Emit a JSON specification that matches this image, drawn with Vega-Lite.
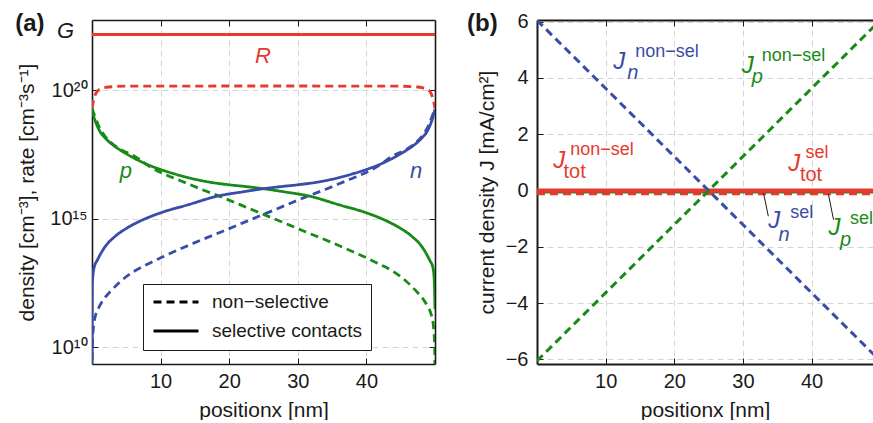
{
  "$schema": "https://vega.github.io/schema/vega-lite/v6.json",
  "padding": {"left": 15, "top": 11, "right": 0, "bottom": 0},
  "background": "white",
  "config": {
    "view": {"stroke": null},
    "font": "Liberation Sans",
    "text": {"font": "Liberation Sans"},
    "axis": {
      "labelFont": "Liberation Sans", "titleFont": "Liberation Sans",
      "labelFontSize": 20, "titleFontSize": 21, "titleFontWeight": "normal",
      "labelColor": "#1a1a1a", "titleColor": "#1a1a1a",
      "domain": true, "domainColor": "#1a1a1a", "domainWidth": 1.6,
      "tickColor": "#1a1a1a", "tickSize": -6, "tickWidth": 1,
      "gridColor": "#d4d4d4", "gridDash": [6, 4], "gridWidth": 1
    }
  },
  "datasets": {
    "dens": [
      {"x":0,"y":1e9,"carrier":"n","contact":"non−selective"},
      {"x":0.05,"y":1e10,"carrier":"n","contact":"non−selective"},
      {"x":0.2,"y":5.6e10,"carrier":"n","contact":"non−selective"},
      {"x":0.55,"y":1.86e11,"carrier":"n","contact":"non−selective"},
      {"x":1,"y":3.5e11,"carrier":"n","contact":"non−selective"},
      {"x":1.8,"y":7.9e11,"carrier":"n","contact":"non−selective"},
      {"x":2.8,"y":1.58e12,"carrier":"n","contact":"non−selective"},
      {"x":4.2,"y":3.7e12,"carrier":"n","contact":"non−selective"},
      {"x":6,"y":8.5e12,"carrier":"n","contact":"non−selective"},
      {"x":8,"y":1.66e13,"carrier":"n","contact":"non−selective"},
      {"x":10,"y":3.0e13,"carrier":"n","contact":"non−selective"},
      {"x":13,"y":6.9e13,"carrier":"n","contact":"non−selective"},
      {"x":16,"y":1.51e14,"carrier":"n","contact":"non−selective"},
      {"x":19,"y":3.2e14,"carrier":"n","contact":"non−selective"},
      {"x":22,"y":6.9e14,"carrier":"n","contact":"non−selective"},
      {"x":25,"y":1.48e15,"carrier":"n","contact":"non−selective"},
      {"x":28,"y":3.16e15,"carrier":"n","contact":"non−selective"},
      {"x":31,"y":6.8e15,"carrier":"n","contact":"non−selective"},
      {"x":34,"y":1.38e16,"carrier":"n","contact":"non−selective"},
      {"x":37,"y":2.95e16,"carrier":"n","contact":"non−selective"},
      {"x":39.4,"y":5.4e16,"carrier":"n","contact":"non−selective"},
      {"x":41.7,"y":1.12e17,"carrier":"n","contact":"non−selective"},
      {"x":43.8,"y":2.75e17,"carrier":"n","contact":"non−selective"},
      {"x":45.7,"y":4.8e17,"carrier":"n","contact":"non−selective"},
      {"x":47.2,"y":9.1e17,"carrier":"n","contact":"non−selective"},
      {"x":48.2,"y":1.78e18,"carrier":"n","contact":"non−selective"},
      {"x":49,"y":4.0e18,"carrier":"n","contact":"non−selective"},
      {"x":49.6,"y":1.0e19,"carrier":"n","contact":"non−selective"},
      {"x":50,"y":2.0e19,"carrier":"n","contact":"non−selective"},

      {"x":0,"y":2.0e19,"carrier":"p","contact":"non−selective"},
      {"x":0.4,"y":1.0e19,"carrier":"p","contact":"non−selective"},
      {"x":1,"y":4.0e18,"carrier":"p","contact":"non−selective"},
      {"x":1.8,"y":1.78e18,"carrier":"p","contact":"non−selective"},
      {"x":2.8,"y":9.1e17,"carrier":"p","contact":"non−selective"},
      {"x":4.3,"y":4.8e17,"carrier":"p","contact":"non−selective"},
      {"x":6.2,"y":2.75e17,"carrier":"p","contact":"non−selective"},
      {"x":8.3,"y":1.12e17,"carrier":"p","contact":"non−selective"},
      {"x":10.6,"y":5.4e16,"carrier":"p","contact":"non−selective"},
      {"x":13,"y":2.95e16,"carrier":"p","contact":"non−selective"},
      {"x":16,"y":1.38e16,"carrier":"p","contact":"non−selective"},
      {"x":19,"y":6.8e15,"carrier":"p","contact":"non−selective"},
      {"x":22,"y":3.16e15,"carrier":"p","contact":"non−selective"},
      {"x":25,"y":1.48e15,"carrier":"p","contact":"non−selective"},
      {"x":28,"y":6.9e14,"carrier":"p","contact":"non−selective"},
      {"x":31,"y":3.2e14,"carrier":"p","contact":"non−selective"},
      {"x":34,"y":1.51e14,"carrier":"p","contact":"non−selective"},
      {"x":37,"y":6.9e13,"carrier":"p","contact":"non−selective"},
      {"x":40,"y":3.0e13,"carrier":"p","contact":"non−selective"},
      {"x":42,"y":1.66e13,"carrier":"p","contact":"non−selective"},
      {"x":44,"y":8.5e12,"carrier":"p","contact":"non−selective"},
      {"x":45.8,"y":3.7e12,"carrier":"p","contact":"non−selective"},
      {"x":47.2,"y":1.58e12,"carrier":"p","contact":"non−selective"},
      {"x":48.2,"y":7.9e11,"carrier":"p","contact":"non−selective"},
      {"x":49,"y":3.5e11,"carrier":"p","contact":"non−selective"},
      {"x":49.45,"y":1.86e11,"carrier":"p","contact":"non−selective"},
      {"x":49.8,"y":5.6e10,"carrier":"p","contact":"non−selective"},
      {"x":49.95,"y":1e10,"carrier":"p","contact":"non−selective"},
      {"x":50,"y":1e9,"carrier":"p","contact":"non−selective"},

      {"x":0,"y":2.0e19,"carrier":"R","contact":"non−selective"},
      {"x":0.25,"y":4.2e19,"carrier":"R","contact":"non−selective"},
      {"x":0.6,"y":7.9e19,"carrier":"R","contact":"non−selective"},
      {"x":1.2,"y":1.12e20,"carrier":"R","contact":"non−selective"},
      {"x":2.5,"y":1.35e20,"carrier":"R","contact":"non−selective"},
      {"x":5,"y":1.45e20,"carrier":"R","contact":"non−selective"},
      {"x":25,"y":1.48e20,"carrier":"R","contact":"non−selective"},
      {"x":45,"y":1.45e20,"carrier":"R","contact":"non−selective"},
      {"x":47.5,"y":1.35e20,"carrier":"R","contact":"non−selective"},
      {"x":48.8,"y":1.12e20,"carrier":"R","contact":"non−selective"},
      {"x":49.4,"y":7.9e19,"carrier":"R","contact":"non−selective"},
      {"x":49.75,"y":4.2e19,"carrier":"R","contact":"non−selective"},
      {"x":50,"y":2.0e19,"carrier":"R","contact":"non−selective"},

      {"x":0,"y":1.5e22,"carrier":"R","contact":"selective contacts"},
      {"x":50,"y":1.5e22,"carrier":"R","contact":"selective contacts"},

      {"x":0,"y":1.82e19,"carrier":"p","contact":"selective contacts"},
      {"x":0.3,"y":8.9e18,"carrier":"p","contact":"selective contacts"},
      {"x":0.7,"y":4.5e18,"carrier":"p","contact":"selective contacts"},
      {"x":1.2,"y":2.4e18,"carrier":"p","contact":"selective contacts"},
      {"x":2,"y":1.32e18,"carrier":"p","contact":"selective contacts"},
      {"x":3,"y":7.6e17,"carrier":"p","contact":"selective contacts"},
      {"x":4.3,"y":4.4e17,"carrier":"p","contact":"selective contacts"},
      {"x":6,"y":2.4e17,"carrier":"p","contact":"selective contacts"},
      {"x":8,"y":1.32e17,"carrier":"p","contact":"selective contacts"},
      {"x":10,"y":8.3e16,"carrier":"p","contact":"selective contacts"},
      {"x":12,"y":5.6e16,"carrier":"p","contact":"selective contacts"},
      {"x":14,"y":4.0e16,"carrier":"p","contact":"selective contacts"},
      {"x":17,"y":2.7e16,"carrier":"p","contact":"selective contacts"},
      {"x":20,"y":2.1e16,"carrier":"p","contact":"selective contacts"},
      {"x":22.5,"y":1.78e16,"carrier":"p","contact":"selective contacts"},
      {"x":25,"y":1.48e16,"carrier":"p","contact":"selective contacts"},
      {"x":28,"y":1.12e16,"carrier":"p","contact":"selective contacts"},
      {"x":31.7,"y":7.6e15,"carrier":"p","contact":"selective contacts"},
      {"x":36,"y":3.5e15,"carrier":"p","contact":"selective contacts"},
      {"x":40,"y":1.7e15,"carrier":"p","contact":"selective contacts"},
      {"x":42.5,"y":9.3e14,"carrier":"p","contact":"selective contacts"},
      {"x":44.8,"y":4.5e14,"carrier":"p","contact":"selective contacts"},
      {"x":46.5,"y":2.2e14,"carrier":"p","contact":"selective contacts"},
      {"x":48.2,"y":7.4e13,"carrier":"p","contact":"selective contacts"},
      {"x":49.2,"y":2.5e13,"carrier":"p","contact":"selective contacts"},
      {"x":49.7,"y":1.23e13,"carrier":"p","contact":"selective contacts"},
      {"x":49.9,"y":3.7e12,"carrier":"p","contact":"selective contacts"},
      {"x":50,"y":3e11,"carrier":"p","contact":"selective contacts"},

      {"x":0,"y":1e9,"carrier":"n","contact":"selective contacts"},
      {"x":0.05,"y":3.0e12,"carrier":"n","contact":"selective contacts"},
      {"x":0.3,"y":1.23e13,"carrier":"n","contact":"selective contacts"},
      {"x":0.8,"y":2.5e13,"carrier":"n","contact":"selective contacts"},
      {"x":1.8,"y":7.4e13,"carrier":"n","contact":"selective contacts"},
      {"x":3.5,"y":2.2e14,"carrier":"n","contact":"selective contacts"},
      {"x":5.2,"y":4.5e14,"carrier":"n","contact":"selective contacts"},
      {"x":7.5,"y":9.3e14,"carrier":"n","contact":"selective contacts"},
      {"x":10,"y":1.7e15,"carrier":"n","contact":"selective contacts"},
      {"x":14,"y":3.5e15,"carrier":"n","contact":"selective contacts"},
      {"x":18.3,"y":7.6e15,"carrier":"n","contact":"selective contacts"},
      {"x":22,"y":1.12e16,"carrier":"n","contact":"selective contacts"},
      {"x":25,"y":1.48e16,"carrier":"n","contact":"selective contacts"},
      {"x":27.5,"y":1.78e16,"carrier":"n","contact":"selective contacts"},
      {"x":30,"y":2.1e16,"carrier":"n","contact":"selective contacts"},
      {"x":33,"y":2.7e16,"carrier":"n","contact":"selective contacts"},
      {"x":36,"y":4.0e16,"carrier":"n","contact":"selective contacts"},
      {"x":38,"y":5.6e16,"carrier":"n","contact":"selective contacts"},
      {"x":40,"y":8.3e16,"carrier":"n","contact":"selective contacts"},
      {"x":42,"y":1.32e17,"carrier":"n","contact":"selective contacts"},
      {"x":44,"y":2.4e17,"carrier":"n","contact":"selective contacts"},
      {"x":45.7,"y":4.4e17,"carrier":"n","contact":"selective contacts"},
      {"x":47,"y":7.6e17,"carrier":"n","contact":"selective contacts"},
      {"x":48,"y":1.32e18,"carrier":"n","contact":"selective contacts"},
      {"x":48.8,"y":2.4e18,"carrier":"n","contact":"selective contacts"},
      {"x":49.3,"y":4.5e18,"carrier":"n","contact":"selective contacts"},
      {"x":49.7,"y":8.9e18,"carrier":"n","contact":"selective contacts"},
      {"x":50,"y":1.82e19,"carrier":"n","contact":"selective contacts"}
    ],
    "jsel": [
      {"x":0,"J":-0.07,"carrier":"n"},
      {"x":50,"J":-0.07,"carrier":"n"},
      {"x":0,"J":-0.07,"carrier":"p"},
      {"x":50,"J":-0.07,"carrier":"p"}
    ],
    "jtotnon": [
      {"x":0,"J":-0.11,"carrier":"tot"},
      {"x":50,"J":-0.11,"carrier":"tot"}
    ],
    "jtotsel": [
      {"x":0,"J":0.0,"carrier":"tot"},
      {"x":50,"J":0.0,"carrier":"tot"}
    ],
    "jnon": [
      {"x":0,"J":6.05,"carrier":"n"},
      {"x":50,"J":-6.05,"carrier":"n"},
      {"x":0,"J":-6.05,"carrier":"p"},
      {"x":50,"J":6.05,"carrier":"p"}
    ]
  },
  "columns": 2,
  "spacing": 31,
  "concat": [
    {
      "width": 343,
      "height": 344,
      "layer": [
        {
          "data": {"name": "dens"},
          "mark": {"type": "line", "strokeWidth": 2.8, "clip": true, "interpolate": "monotone"},
          "encoding": {
            "x": {"field": "x", "type": "quantitative",
              "scale": {"domain": [0, 50], "nice": false, "zero": false},
              "axis": {"values": [10, 20, 30, 40], "title": "positionx [nm]", "grid": true, "labelPadding": 13, "titlePadding": 8}},
            "y": {"field": "y", "type": "quantitative",
              "scale": {"type": "log", "domain": [2.2e9, 5.5e22], "nice": false},
              "axis": {"values": [1e10, 1e15, 1e20], "labelExpr": "datum.value < 1e12 ? '10¹⁰' : datum.value < 1e17 ? '10¹⁵' : '10²⁰'",
                "title": "density [cm⁻³], rate [cm⁻³s⁻¹]", "grid": true, "labelPadding": 11, "titlePadding": 12}},
            "color": {"field": "carrier", "type": "nominal",
              "scale": {"domain": ["n", "p", "R", "G", "tot"], "range": ["#3a4ca8", "#178a17", "#e63a2e", "#1a1a1a", "#e63a2e"]},
              "legend": null},
            "strokeDash": {"field": "contact", "type": "nominal",
              "scale": {"domain": ["non−selective", "selective contacts"], "range": [[8, 5], [1, 0]]},
              "legend": {"orient": "none", "legendX": 51, "legendY": 264, "title": null,
                "symbolType": "stroke", "symbolSize": 2025, "symbolStrokeWidth": 3, "symbolStrokeColor": "#000000",
                "labelFont": "Liberation Sans", "labelFontSize": 19, "labelColor": "#1a1a1a", "labelOffset": 12,
                "padding": 9, "rowPadding": 10, "clipHeight": 18,
                "strokeColor": "#1a1a1a", "fillColor": "white", "cornerRadius": 0}}
          }
        },
        {
          "data": {"name": "dens"},
          "mark": {"type": "point", "opacity": 0, "clip": true},
          "encoding": {
            "x": {"field": "x", "type": "quantitative",
              "scale": {"domain": [0, 50], "nice": false, "zero": false},
              "axis": {"orient": "top", "values": [10, 20, 30, 40], "labels": false, "title": null, "grid": false}},
            "y": {"field": "y", "type": "quantitative",
              "scale": {"type": "log", "domain": [2.2e9, 5.5e22], "nice": false},
              "axis": {"orient": "right", "values": [1e10, 1e15, 1e20], "labels": false, "title": null, "grid": false}}
          }
        },
        {
          "data": {"values": [
            {"x": -5.1, "y": 1.1e22, "text": "G", "carrier": "G"},
            {"x": 23.76, "y": 1.15e21, "text": "R", "carrier": "R"},
            {"x": 4.04, "y": 3.7e16, "text": "p", "carrier": "p"},
            {"x": 46.36, "y": 3.7e16, "text": "n", "carrier": "n"}
          ]},
          "mark": {"type": "text", "fontStyle": "italic", "fontSize": 22, "align": "left", "baseline": "alphabetic"},
          "encoding": {
            "x": {"field": "x", "type": "quantitative", "scale": {"domain": [0, 50], "nice": false, "zero": false}, "axis": null},
            "y": {"field": "y", "type": "quantitative", "scale": {"type": "log", "domain": [2.2e9, 5.5e22], "nice": false}, "axis": null},
            "text": {"field": "text"},
            "color": {"field": "carrier", "type": "nominal",
              "scale": {"domain": ["n", "p", "R", "G", "tot"], "range": ["#3a4ca8", "#178a17", "#e63a2e", "#1a1a1a", "#e63a2e"]},
              "legend": null}
          }
        },
        {
          "data": {"values": [{"x": -11.2, "y": 2.04e22, "text": "(a)"}]},
          "mark": {"type": "text", "fontWeight": "bold", "fontSize": 24, "align": "left", "baseline": "alphabetic", "color": "#1a1a1a"},
          "encoding": {
            "x": {"field": "x", "type": "quantitative", "scale": {"domain": [0, 50], "nice": false, "zero": false}, "axis": null},
            "y": {"field": "y", "type": "quantitative", "scale": {"type": "log", "domain": [2.2e9, 5.5e22], "nice": false}, "axis": null},
            "text": {"field": "text"}
          }
        }
      ],
      "resolve": {"axis": {"x": "independent", "y": "independent"}}
    },
    {
      "width": 336,
      "height": 344,
      "layer": [
        {
          "data": {"name": "jsel"},
          "mark": {"type": "line", "strokeWidth": 1.2, "clip": true},
          "encoding": {
            "x": {"field": "x", "type": "quantitative",
              "scale": {"domain": [0, 48.95], "nice": false, "zero": false},
              "axis": {"values": [10, 20, 30, 40], "title": "positionx [nm]", "grid": true, "labelPadding": 13, "titlePadding": 8,
                "domainColor": "#1a1a1a", "domainWidth": 2}},
            "y": {"field": "J", "type": "quantitative",
              "scale": {"domain": [-6.16, 6.06], "nice": false, "zero": false},
              "axis": {"values": [-6, -4, -2, 0, 2, 4, 6], "title": "current density J [mA/cm²]", "grid": true, "labelPadding": 15, "titlePadding": 8,
                "domainColor": "#1a1a1a", "domainWidth": 2}},
            "color": {"field": "carrier", "type": "nominal",
              "scale": {"domain": ["n", "p", "R", "G", "tot"], "range": ["#3a4ca8", "#178a17", "#e63a2e", "#1a1a1a", "#e63a2e"]},
              "legend": null}
          }
        },
        {
          "data": {"name": "jnon"},
          "mark": {"type": "point", "opacity": 0, "clip": true},
          "encoding": {
            "x": {"field": "x", "type": "quantitative",
              "scale": {"domain": [0, 48.95], "nice": false, "zero": false},
              "axis": {"orient": "top", "values": [10, 20, 30, 40], "labels": false, "title": null, "grid": false,
                "domainColor": "#1a1a1a", "domainWidth": 2}},
            "y": {"field": "J", "type": "quantitative",
              "scale": {"domain": [-6.16, 6.06], "nice": false, "zero": false},
              "axis": null}
          }
        },
        {
          "data": {"name": "jtotnon"},
          "mark": {"type": "line", "strokeWidth": 3, "strokeDash": [8, 5], "clip": true, "color": "#e63a2e"},
          "encoding": {
            "x": {"field": "x", "type": "quantitative", "scale": {"domain": [0, 48.95], "nice": false, "zero": false}, "axis": null},
            "y": {"field": "J", "type": "quantitative", "scale": {"domain": [-6.16, 6.06], "nice": false, "zero": false}, "axis": null}
          }
        },
        {
          "data": {"name": "jtotsel"},
          "mark": {"type": "line", "strokeWidth": 4, "clip": true, "color": "#e63a2e"},
          "encoding": {
            "x": {"field": "x", "type": "quantitative", "scale": {"domain": [0, 48.95], "nice": false, "zero": false}, "axis": null},
            "y": {"field": "J", "type": "quantitative", "scale": {"domain": [-6.16, 6.06], "nice": false, "zero": false}, "axis": null}
          }
        },
        {
          "data": {"name": "jnon"},
          "mark": {"type": "line", "strokeWidth": 3, "strokeDash": [8, 5], "clip": true},
          "encoding": {
            "x": {"field": "x", "type": "quantitative", "scale": {"domain": [0, 48.95], "nice": false, "zero": false}, "axis": null},
            "y": {"field": "J", "type": "quantitative", "scale": {"domain": [-6.16, 6.06], "nice": false, "zero": false}, "axis": null},
            "color": {"field": "carrier", "type": "nominal",
              "scale": {"domain": ["n", "p", "R", "G", "tot"], "range": ["#3a4ca8", "#178a17", "#e63a2e", "#1a1a1a", "#e63a2e"]},
              "legend": null}
          }
        },
        {
          "data": {"values": [
            {"x": 33.0, "y": -0.09, "x2": 33.7, "y2": -0.91},
            {"x": 42.45, "y": -0.12, "x2": 43.2, "y2": -1.03}
          ]},
          "mark": {"type": "rule", "strokeWidth": 1, "color": "#1a1a1a"},
          "encoding": {
            "x": {"field": "x", "type": "quantitative", "scale": {"domain": [0, 48.95], "nice": false, "zero": false}, "axis": null},
            "y": {"field": "y", "type": "quantitative", "scale": {"domain": [-6.16, 6.06], "nice": false, "zero": false}, "axis": null},
            "x2": {"field": "x2"},
            "y2": {"field": "y2"}
          }
        },
        {
          "data": {"values": [
            {"x": 11.1, "y": 4.31, "text": "J", "carrier": "n"},
            {"x": 29.84, "y": 4.18, "text": "J", "carrier": "p"},
            {"x": 2.37, "y": 0.8, "text": "J", "carrier": "tot"},
            {"x": 36.6, "y": 0.69, "text": "J", "carrier": "tot"},
            {"x": 33.7, "y": -1.33, "text": "J", "carrier": "n"},
            {"x": 42.45, "y": -1.56, "text": "J", "carrier": "p"}
          ]},
          "mark": {"type": "text", "fontStyle": "italic", "fontSize": 24, "align": "left", "baseline": "alphabetic"},
          "encoding": {
            "x": {"field": "x", "type": "quantitative", "scale": {"domain": [0, 48.95], "nice": false, "zero": false}, "axis": null},
            "y": {"field": "y", "type": "quantitative", "scale": {"domain": [-6.16, 6.06], "nice": false, "zero": false}, "axis": null},
            "text": {"field": "text"},
            "color": {"field": "carrier", "type": "nominal",
              "scale": {"domain": ["n", "p", "R", "G", "tot"], "range": ["#3a4ca8", "#178a17", "#e63a2e", "#1a1a1a", "#e63a2e"]},
              "legend": null}
          }
        },
        {
          "data": {"values": [
            {"x": 13.15, "y": 3.95, "text": "n", "carrier": "n"},
            {"x": 31.3, "y": 3.81, "text": "p", "carrier": "p"},
            {"x": 35.2, "y": -1.8, "text": "n", "carrier": "n"},
            {"x": 44.15, "y": -1.98, "text": "p", "carrier": "p"}
          ]},
          "mark": {"type": "text", "fontStyle": "italic", "fontSize": 20, "align": "left", "baseline": "alphabetic"},
          "encoding": {
            "x": {"field": "x", "type": "quantitative", "scale": {"domain": [0, 48.95], "nice": false, "zero": false}, "axis": null},
            "y": {"field": "y", "type": "quantitative", "scale": {"domain": [-6.16, 6.06], "nice": false, "zero": false}, "axis": null},
            "text": {"field": "text"},
            "color": {"field": "carrier", "type": "nominal",
              "scale": {"domain": ["n", "p", "R", "G", "tot"], "range": ["#3a4ca8", "#178a17", "#e63a2e", "#1a1a1a", "#e63a2e"]},
              "legend": null}
          }
        },
        {
          "data": {"values": [
            {"x": 3.87, "y": 0.45, "text": "tot", "carrier": "tot"},
            {"x": 38.3, "y": 0.33, "text": "tot", "carrier": "tot"}
          ]},
          "mark": {"type": "text", "fontSize": 20, "align": "left", "baseline": "alphabetic"},
          "encoding": {
            "x": {"field": "x", "type": "quantitative", "scale": {"domain": [0, 48.95], "nice": false, "zero": false}, "axis": null},
            "y": {"field": "y", "type": "quantitative", "scale": {"domain": [-6.16, 6.06], "nice": false, "zero": false}, "axis": null},
            "text": {"field": "text"},
            "color": {"field": "carrier", "type": "nominal",
              "scale": {"domain": ["n", "p", "R", "G", "tot"], "range": ["#3a4ca8", "#178a17", "#e63a2e", "#1a1a1a", "#e63a2e"]},
              "legend": null}
          }
        },
        {
          "data": {"values": [
            {"x": 14.3, "y": 4.73, "text": "non−sel", "carrier": "n"},
            {"x": 32.75, "y": 4.6, "text": "non−sel", "carrier": "p"},
            {"x": 4.85, "y": 1.28, "text": "non−sel", "carrier": "tot"},
            {"x": 39.1, "y": 1.16, "text": "sel", "carrier": "tot"},
            {"x": 36.9, "y": -0.97, "text": "sel", "carrier": "n"},
            {"x": 45.6, "y": -1.2, "text": "sel", "carrier": "p"}
          ]},
          "mark": {"type": "text", "fontSize": 18, "align": "left", "baseline": "alphabetic", "clip": true},
          "encoding": {
            "x": {"field": "x", "type": "quantitative", "scale": {"domain": [0, 48.95], "nice": false, "zero": false}, "axis": null},
            "y": {"field": "y", "type": "quantitative", "scale": {"domain": [-6.16, 6.06], "nice": false, "zero": false}, "axis": null},
            "text": {"field": "text"},
            "color": {"field": "carrier", "type": "nominal",
              "scale": {"domain": ["n", "p", "R", "G", "tot"], "range": ["#3a4ca8", "#178a17", "#e63a2e", "#1a1a1a", "#e63a2e"]},
              "legend": null}
          }
        },
        {
          "data": {"values": [{"x": -10.19, "y": 5.66, "text": "(b)"}]},
          "mark": {"type": "text", "fontWeight": "bold", "fontSize": 24, "align": "left", "baseline": "alphabetic", "color": "#1a1a1a"},
          "encoding": {
            "x": {"field": "x", "type": "quantitative", "scale": {"domain": [0, 48.95], "nice": false, "zero": false}, "axis": null},
            "y": {"field": "y", "type": "quantitative", "scale": {"domain": [-6.16, 6.06], "nice": false, "zero": false}, "axis": null},
            "text": {"field": "text"}
          }
        }
      ],
      "resolve": {"axis": {"x": "independent", "y": "independent"}}
    }
  ]
}
